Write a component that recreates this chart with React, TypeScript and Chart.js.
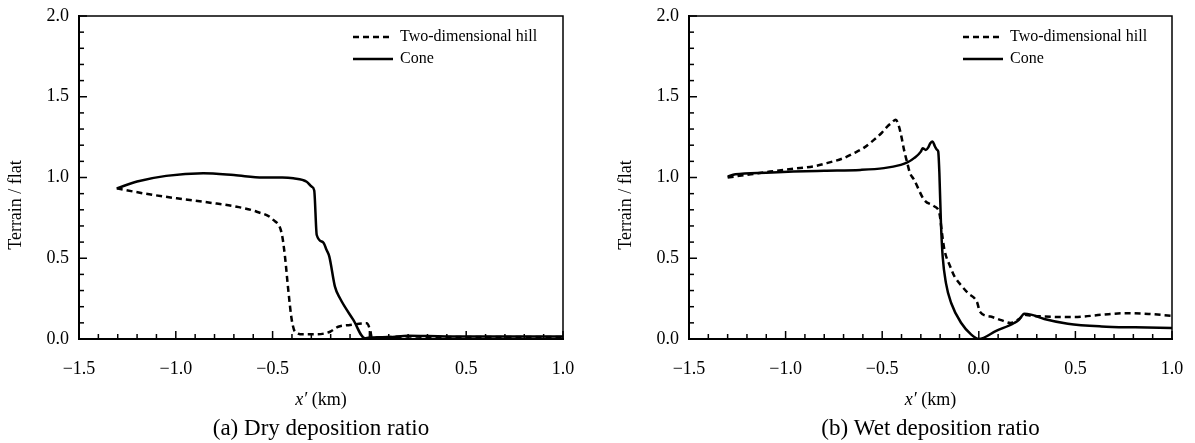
import React, { useEffect, useRef } from 'react';
import { Chart, registerables } from 'chart.js';

Chart.register(...registerables);

const FONT = '"Liberation Serif", "Times New Roman", serif';

// Axis ticks
const xTickLabels = [-1.5, -1.0, -0.5, 0.0, 0.5, 1.0];
const yTickLabels = [0.0, 0.5, 1.0, 1.5, 2.0];
const minorStep = 0.1;
const seriesNames = ['Two-dimensional hill', 'Cone'];
const captions = ['(a) Dry deposition ratio', '(b) Wet deposition ratio'];
const yAxisTitle = 'Terrain / flat';

// (a) Dry deposition ratio
const dryHillX = [-1.305, -1.168, -0.995, -0.823, -0.685, -0.582, -0.496, -0.453, -0.436, -0.419, -0.401, -0.384, -0.341, -0.272, -0.203, -0.161, -0.1, -0.014, 0.005, 0.012, 0.03, 0.2, 0.4, 0.6, 0.8, 1.0];
const dryHillY = [0.933, 0.902, 0.871, 0.844, 0.819, 0.788, 0.737, 0.654, 0.51, 0.303, 0.118, 0.045, 0.029, 0.029, 0.045, 0.076, 0.087, 0.097, 0.05, 0.01, 0.01, 0.015, 0.012, 0.012, 0.012, 0.012];
const dryConeX = [-1.305, -1.2, -1.05, -0.858, -0.7, -0.55, -0.45, -0.393, -0.324, -0.298, -0.285, -0.272, -0.24, -0.221, -0.207, -0.178, -0.152, -0.083, -0.023, 0.0, 0.1, 0.2, 0.3, 0.5, 0.7, 1.0];
const dryConeY = [0.933, 0.975, 1.01, 1.026, 1.015, 1.0, 1.0, 0.995, 0.974, 0.943, 0.92, 0.644, 0.6, 0.551, 0.51, 0.324, 0.252, 0.118, 0.004, 0.01, 0.012, 0.02, 0.018, 0.015, 0.015, 0.015];

// (b) Wet deposition ratio
const wetHillX = [-1.3, -1.18, -1.08, -0.96, -0.85, -0.787, -0.7, -0.648, -0.6, -0.543, -0.5, -0.474, -0.45, -0.43, -0.413, -0.4, -0.387, -0.37, -0.357, -0.335, -0.283, -0.23, -0.204, -0.19, -0.178, -0.148, -0.126, -0.09, -0.057, -0.008, 0.005, 0.061, 0.12, 0.165, 0.21, 0.235, 0.27, 0.339, 0.496, 0.635, 0.757, 0.878, 1.0];
const wetHillY = [1.0, 1.02, 1.037, 1.054, 1.07, 1.089, 1.12, 1.15, 1.18, 1.233, 1.28, 1.315, 1.34, 1.357, 1.315, 1.25, 1.171, 1.089, 1.03, 0.986, 0.862, 0.821, 0.779, 0.65, 0.553, 0.449, 0.388, 0.33, 0.285, 0.225, 0.17, 0.139, 0.115, 0.099, 0.125, 0.15, 0.145, 0.139, 0.136, 0.15, 0.16, 0.155, 0.144];
const wetConeX = [-1.3, -1.26, -1.1, -0.96, -0.8, -0.613, -0.491, -0.404, -0.37, -0.335, -0.3, -0.291, -0.274, -0.26, -0.251, -0.239, -0.227, -0.215, -0.21, -0.204, -0.196, -0.187, -0.17, -0.143, -0.091, -0.039, 0.0, 0.09, 0.183, 0.209, 0.235, 0.27, 0.339, 0.461, 0.635, 0.809, 1.0];
const wetConeY = [1.005, 1.02, 1.03, 1.037, 1.042, 1.047, 1.058, 1.078, 1.093, 1.12, 1.16, 1.181, 1.171, 1.19, 1.212, 1.223, 1.192, 1.17, 1.161, 1.027, 0.718, 0.511, 0.346, 0.223, 0.099, 0.027, 0.0, 0.05, 0.099, 0.12, 0.157, 0.151, 0.124, 0.095, 0.078, 0.072, 0.068];

const fmt = (v: number) => (v < 0 ? '\u2212' + Math.abs(v).toFixed(1) : v.toFixed(1));
const toPts = (xs: number[], ys: number[]) => xs.map((x, i) => ({ x, y: ys[i] }));

const H = 443;
const AXIS_LEFT = 79;
const PLOT_BOTTOM = 339;
const PLOT_TOP = 16;
const HILL_DASH = [6, 4];

function buildChart(canvas: HTMLCanvasElement, hillX: number[], hillY: number[], coneX: number[], coneY: number[], caption: string, padRight: number) {
  const decor = {
    id: 'decor',
    afterDraw(chart: any) {
      const { ctx, chartArea: a, scales } = chart;
      const xs = scales.x;
      const ys = scales.y;
      ctx.save();
      ctx.strokeStyle = '#000';
      ctx.fillStyle = '#000';
      // frame top & right
      ctx.lineWidth = 1.5;
      ctx.beginPath();
      ctx.moveTo(a.left, a.top);
      ctx.lineTo(a.right, a.top);
      ctx.lineTo(a.right, a.bottom);
      ctx.stroke();
      // inward ticks
      ctx.lineWidth = 1.5;
      const x0 = Math.round(xTickLabels[0] / minorStep);
      const x1 = Math.round(xTickLabels[xTickLabels.length - 1] / minorStep);
      for (let i = x0; i <= x1; i++) {
        const px = xs.getPixelForValue(i * minorStep);
        const len = i % 5 === 0 ? 8 : 5;
        ctx.beginPath();
        ctx.moveTo(px, a.bottom);
        ctx.lineTo(px, a.bottom - len);
        ctx.stroke();
      }
      const y0 = Math.round(yTickLabels[0] / minorStep);
      const y1 = Math.round(yTickLabels[yTickLabels.length - 1] / minorStep);
      for (let i = y0; i <= y1; i++) {
        const py = ys.getPixelForValue(i * minorStep);
        const len = i % 5 === 0 ? 8 : 5;
        ctx.beginPath();
        ctx.moveTo(a.left, py);
        ctx.lineTo(a.left + len, py);
        ctx.stroke();
      }
      // legend
      const lx = a.left + 274;
      const ly = [37, 59];
      ctx.lineWidth = 2.5;
      ctx.setLineDash(HILL_DASH);
      ctx.beginPath();
      ctx.moveTo(lx, ly[0]);
      ctx.lineTo(lx + 38, ly[0]);
      ctx.stroke();
      ctx.setLineDash([]);
      ctx.beginPath();
      ctx.moveTo(lx, ly[1]);
      ctx.lineTo(lx + 40, ly[1]);
      ctx.stroke();
      ctx.font = `16px ${FONT}`;
      ctx.textBaseline = 'middle';
      ctx.textAlign = 'left';
      ctx.fillText(seriesNames[0], lx + 47, ly[0]);
      ctx.fillText(seriesNames[1], lx + 47, ly[1]);
      // x axis title: italic x′ + (km)
      const cx = (a.left + a.right) / 2;
      ctx.font = `italic 18px ${FONT}`;
      const p1 = 'x\u2032';
      const w1 = ctx.measureText(p1).width;
      ctx.font = `18px ${FONT}`;
      const p2 = ' (km)';
      const w2 = ctx.measureText(p2).width;
      const sx = cx - (w1 + w2) / 2;
      ctx.font = `italic 18px ${FONT}`;
      ctx.fillText(p1, sx, 400);
      ctx.font = `18px ${FONT}`;
      ctx.fillText(p2, sx + w1, 400);
      // caption
      ctx.font = `23px ${FONT}`;
      ctx.textAlign = 'center';
      ctx.fillText(caption, cx, 429);
      // y axis title
      ctx.save();
      ctx.translate(16, 205);
      ctx.rotate(-Math.PI / 2);
      ctx.font = `18px ${FONT}`;
      ctx.textAlign = 'center';
      ctx.fillText(yAxisTitle, 0, 0);
      ctx.restore();
      ctx.restore();
    },
  };

  return new Chart(canvas, {
    type: 'line',
    data: {
      datasets: [
        {
          label: seriesNames[0],
          data: toPts(hillX, hillY),
          borderColor: '#000',
          borderWidth: 2.5,
          borderDash: HILL_DASH,
          pointRadius: 0,
          fill: false,
          cubicInterpolationMode: 'monotone',
        },
        {
          label: seriesNames[1],
          data: toPts(coneX, coneY),
          borderColor: '#000',
          borderWidth: 2.5,
          pointRadius: 0,
          fill: false,
          cubicInterpolationMode: 'monotone',
        },
      ],
    },
    options: {
      animation: false,
      responsive: false,
      maintainAspectRatio: false,
      layout: { padding: { top: PLOT_TOP, right: padRight, left: 0, bottom: 0 } },
      plugins: { legend: { display: false }, tooltip: { enabled: false }, title: { display: false } },
      scales: {
        x: {
          type: 'linear',
          min: xTickLabels[0],
          max: xTickLabels[xTickLabels.length - 1],
          afterFit: (s: any) => { s.height = H - PLOT_BOTTOM; s.paddingLeft = 0; s.paddingRight = 0; },
          afterBuildTicks: (s: any) => { s.ticks = xTickLabels.map((v) => ({ value: v })); },
          ticks: { callback: (v: any) => fmt(Number(v)), color: '#000', padding: 19, font: { family: FONT, size: 18 }, maxRotation: 0, autoSkip: false },
          grid: { display: false, drawTicks: false },
          border: { display: true, color: '#000', width: 2 },
        },
        y: {
          type: 'linear',
          min: yTickLabels[0],
          max: yTickLabels[yTickLabels.length - 1],
          afterFit: (s: any) => { s.width = AXIS_LEFT; s.paddingTop = 0; s.paddingBottom = 0; },
          afterBuildTicks: (s: any) => { s.ticks = yTickLabels.map((v) => ({ value: v })); },
          ticks: { callback: (v: any) => fmt(Number(v)), color: '#000', padding: 10, font: { family: FONT, size: 18 } },
          grid: { display: false, drawTicks: false },
          border: { display: true, color: '#000', width: 2 },
        },
      },
    },
    plugins: [decor],
  } as any);
}

export default function App() {
  const leftRef = useRef<HTMLCanvasElement>(null);
  const rightRef = useRef<HTMLCanvasElement>(null);

  useEffect(() => {
    const c1 = buildChart(leftRef.current!, dryHillX, dryHillY, dryConeX, dryConeY, captions[0], 34);
    const c2 = buildChart(rightRef.current!, wetHillX, wetHillY, wetConeX, wetConeY, captions[1], 23);
    return () => {
      c1.destroy();
      c2.destroy();
    };
  }, []);

  return (
    <div style={{ position: 'absolute', left: 0, top: 0, width: 1195, height: H, background: '#fff', overflow: 'hidden' }}>
      <canvas ref={leftRef} width={597} height={H} style={{ position: 'absolute', left: 0, top: 0, width: 597, height: H }} />
      <canvas ref={rightRef} width={585} height={H} style={{ position: 'absolute', left: 610, top: 0, width: 585, height: H }} />
    </div>
  );
}
